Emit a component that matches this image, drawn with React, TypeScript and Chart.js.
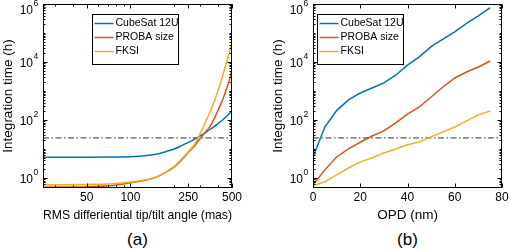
import React, { useEffect, useRef } from 'react';
import { Chart, registerables } from 'chart.js';

Chart.register(...registerables);

const FONT = '"Liberation Sans", Arial, Helvetica, sans-serif';

// ---- data ----
const seriesNames = ['CubeSat 12U', 'PROBA size', 'FKSI'];
const seriesColors = ['#0072BD', '#D95319', '#EDB120'];
const thresholdHours = 24;
const timeMin = 0.45;
const timeMax = 1000000;
const timeTicks = [1, 100, 10000, 1000000];

// (a) RMS differential tip/tilt angle (mas)
const tipTiltMas = [25, 50, 75, 100, 125, 150, 175, 200, 225, 250, 275, 300, 325, 350, 375, 400, 425, 450, 475, 500];
const tipTiltCubeSat = [5.2, 5.2, 5.25, 5.4, 5.8, 6.6, 8.1, 10, 13, 16.8, 21.5, 27.5, 35, 46, 58, 74, 94, 121, 157, 204];
const tipTiltProba = [0.48, 0.5, 0.55, 0.68, 0.82, 1.05, 1.55, 2.4, 4.2, 7.5, 12.5, 22, 36, 57, 105, 210, 420, 900, 2000, 5300];
const tipTiltFksi = [0.57, 0.6, 0.63, 0.72, 0.85, 1.08, 1.6, 2.5, 4.4, 8, 14, 32, 75, 170, 400, 1000, 2600, 7000, 18000, 45000];
const tipTiltTicks = [50, 100, 250, 500];
const tipTiltMin = 25;
const tipTiltMax = 500;

// (b) OPD (nm)
const opdNm = [0, 5, 10, 15, 20, 25, 30, 35, 40, 45, 50, 55, 60, 65, 70, 75];
const opdCubeSat = [5.3, 57, 210, 490, 850, 1270, 1900, 3500, 7800, 15000, 34000, 62000, 110000, 215000, 390000, 750000];
const opdProba = [0.57, 1.9, 5.3, 10, 17, 28, 42, 79, 160, 280, 620, 1370, 2800, 4500, 6700, 10800];
const opdFksi = [0.55, 0.73, 1.27, 2.2, 3.6, 4.9, 7.3, 10, 14, 17.4, 26, 39, 57, 93, 150, 204];
const opdTicks = [0, 20, 40, 60, 80];
const opdMin = 0;
const opdMax = 80;

const CANVAS_H = 223;

type PanelSpec = {
  left: number;
  width: number;
  padRight: number;
  xType: 'logarithmic' | 'linear';
  xMin: number;
  xMax: number;
  xTicks: number[];
  xs: number[];
  ys: number[][];
  xTitle: string;
  caption: string;
  legendDx: number;
  smooth: boolean;
};

const panels: PanelSpec[] = [
  {
    left: 0, width: 245, padRight: 13, xType: 'logarithmic', xMin: tipTiltMin, xMax: tipTiltMax,
    xTicks: tipTiltTicks, xs: tipTiltMas, ys: [tipTiltCubeSat, tipTiltProba, tipTiltFksi],
    xTitle: 'RMS differiential tip/tilt angle (mas)', caption: '(a)', legendDx: 49, smooth: true,
  },
  {
    left: 270, width: 240, padRight: 8, xType: 'linear', xMin: opdMin, xMax: opdMax,
    xTicks: opdTicks, xs: opdNm, ys: [opdCubeSat, opdProba, opdFksi],
    xTitle: 'OPD (nm)', caption: '(b)', legendDx: 4, smooth: false,
  },
];

function logMinorValues(min: number, max: number): number[] {
  const out: number[] = [];
  for (let n = Math.floor(Math.log10(min)) - 1; n <= Math.ceil(Math.log10(max)); n++) {
    for (let m = 1; m <= 9; m++) {
      const v = m * Math.pow(10, n);
      if (v >= min && v <= max) out.push(v);
    }
  }
  return out;
}

function Panel({ spec }: { spec: PanelSpec }) {
  const ref = useRef<HTMLCanvasElement>(null);
  useEffect(() => {
    const canvas = ref.current;
    if (!canvas) return;

    const extras = {
      id: 'extras',
      afterDatasetsDraw(chart: any) {
        const ctx = chart.ctx as CanvasRenderingContext2D;
        const a = chart.chartArea;
        const xs = chart.scales.x;
        const ys = chart.scales.y;
        const L = Math.round(a.left) + 0.5;
        const R = Math.round(a.right) - 0.5;
        const T = Math.round(a.top) + 0.5;
        const B = Math.round(a.bottom) - 0.5;
        ctx.save();
        ctx.strokeStyle = '#000';
        ctx.lineWidth = 1;
        ctx.setLineDash([]);
        ctx.beginPath();
        for (const v of logMinorValues(timeMin, timeMax)) {
          const y = Math.round(ys.getPixelForValue(v)) + 0.5;
          const major = timeTicks.some((t) => Math.abs(t - v) / t < 1e-6);
          const len = major ? 4 : 2;
          ctx.moveTo(L, y); ctx.lineTo(L + len, y);
          ctx.moveTo(R, y); ctx.lineTo(R - len, y);
        }
        const xMinor = spec.xType === 'logarithmic' ? logMinorValues(spec.xMin, spec.xMax) : [];
        for (const v of xMinor) {
          const x = Math.round(xs.getPixelForValue(v)) + 0.5;
          ctx.moveTo(x, B); ctx.lineTo(x, B - 2);
          ctx.moveTo(x, T); ctx.lineTo(x, T + 2);
        }
        for (const v of spec.xTicks) {
          const x = Math.round(xs.getPixelForValue(v)) + 0.5;
          ctx.moveTo(x, B); ctx.lineTo(x, B - 4);
          ctx.moveTo(x, T); ctx.lineTo(x, T + 4);
        }
        ctx.stroke();
        ctx.strokeRect(L, T, R - L, B - T);

        // y tick labels 10^n
        ctx.fillStyle = '#000';
        for (const v of timeTicks) {
          const y = ys.getPixelForValue(v);
          const exp = String(Math.round(Math.log10(v)));
          ctx.font = `12px ${FONT}`;
          ctx.textAlign = 'right';
          ctx.textBaseline = 'middle';
          ctx.fillText('10', a.left - 10, Math.max(y + 2, 10.5));
          ctx.font = `8.5px ${FONT}`;
          ctx.textAlign = 'left';
          ctx.fillText(exp, a.left - 9.5, Math.max(y - 5, 4));
        }

        // legend
        const bx = Math.round(a.left + spec.legendDx) + 0.5;
        const by = Math.round(a.top + 10) + 0.5;
        const bw = 86;
        const bh = 50;
        ctx.fillStyle = '#fff';
        ctx.fillRect(bx, by, bw, bh);
        ctx.strokeStyle = '#000';
        ctx.lineWidth = 1;
        ctx.strokeRect(bx, by, bw, bh);
        seriesNames.forEach((name, i) => {
          const y = by + 9 + 14 * i;
          ctx.strokeStyle = seriesColors[i];
          ctx.lineWidth = 1.5;
          ctx.beginPath();
          ctx.moveTo(bx + 2, y);
          ctx.lineTo(bx + 21, y);
          ctx.stroke();
          ctx.fillStyle = '#000';
          ctx.font = `10.5px ${FONT}`;
          ctx.textAlign = 'left';
          ctx.textBaseline = 'middle';
          ctx.fillText(name, bx + 23, y);
        });
        ctx.restore();
      },
    };

    const curveSets = spec.ys.map((vals, i) => ({
      label: seriesNames[i],
      data: spec.xs.map((x, j) => ({ x, y: vals[j] })),
      borderColor: seriesColors[i],
      backgroundColor: seriesColors[i],
      borderWidth: 1.5,
      pointRadius: 0,
      tension: 0,
      cubicInterpolationMode: spec.smooth ? 'monotone' : 'default',
      fill: false,
      order: 2 - i,
    }));
    const threshold = {
      label: 'threshold',
      data: [
        { x: spec.xMin, y: thresholdHours },
        { x: spec.xMax, y: thresholdHours },
      ],
      borderColor: '#333',
      borderWidth: 1,
      borderDash: [6, 2.5, 1.5, 2.5],
      pointRadius: 0,
      fill: false,
      order: 3,
    };

    const chart = new Chart(canvas, {
      type: 'line',
      data: { datasets: [...curveSets, threshold] as any },
      options: {
        animation: false,
        responsive: false,
        devicePixelRatio: 1,
        layout: { padding: { left: 0, right: spec.padRight, top: 4, bottom: 0 } },
        plugins: { legend: { display: false }, tooltip: { enabled: false }, title: { display: false } },
        scales: {
          x: {
            type: spec.xType,
            min: spec.xMin,
            max: spec.xMax,
            afterBuildTicks: (s: any) => {
              s.ticks = spec.xTicks.map((v) => ({ value: v }));
            },
            afterFit: (s: any) => {
              s.height = 35;
              s.paddingLeft = 0;
              s.paddingRight = 0;
            },
            grid: { display: false, drawTicks: false },
            border: { display: false },
            ticks: {
              autoSkip: false,
              maxRotation: 0,
              padding: 2,
              color: '#000',
              font: { family: FONT, size: 12 },
              callback: (v: any) => String(v),
            },
            title: {
              display: true,
              text: spec.xTitle,
              color: '#000',
              font: { family: FONT, size: 13.5 },
              padding: { top: 0, bottom: 0 },
            },
          },
          y: {
            type: 'logarithmic',
            min: timeMin,
            max: timeMax,
            afterBuildTicks: (s: any) => {
              s.ticks = timeTicks.map((v) => ({ value: v }));
            },
            afterFit: (s: any) => {
              s.width = 43;
              s.paddingTop = 0;
              s.paddingBottom = 0;
            },
            grid: { display: false, drawTicks: false },
            border: { display: false },
            ticks: { autoSkip: false, callback: () => '' },
            title: {
              display: true,
              text: 'Integration time (h)',
              color: '#000',
              font: { family: FONT, size: 13.5 },
              padding: { top: 0, bottom: 0 },
            },
          },
        },
      } as any,
      plugins: [extras],
    });
    return () => chart.destroy();
  }, [spec]);

  return (
    <>
      <canvas
        ref={ref}
        width={spec.width}
        height={CANVAS_H}
        style={{ position: 'absolute', left: spec.left, top: 0, width: spec.width, height: CANVAS_H }}
      />
      <div
        style={{
          position: 'absolute',
          left: spec.left + 43,
          width: 189,
          top: 230,
          textAlign: 'center',
          font: `17px ${FONT}`,
          lineHeight: '20px',
          color: '#000',
        }}
      >
        {spec.caption}
      </div>
    </>
  );
}

export default function App() {
  return (
    <div style={{ position: 'absolute', left: 0, top: 0, width: 510, height: 250, background: '#fff', overflow: 'hidden' }}>
      {panels.map((p) => (
        <Panel key={p.caption} spec={p} />
      ))}
    </div>
  );
}
